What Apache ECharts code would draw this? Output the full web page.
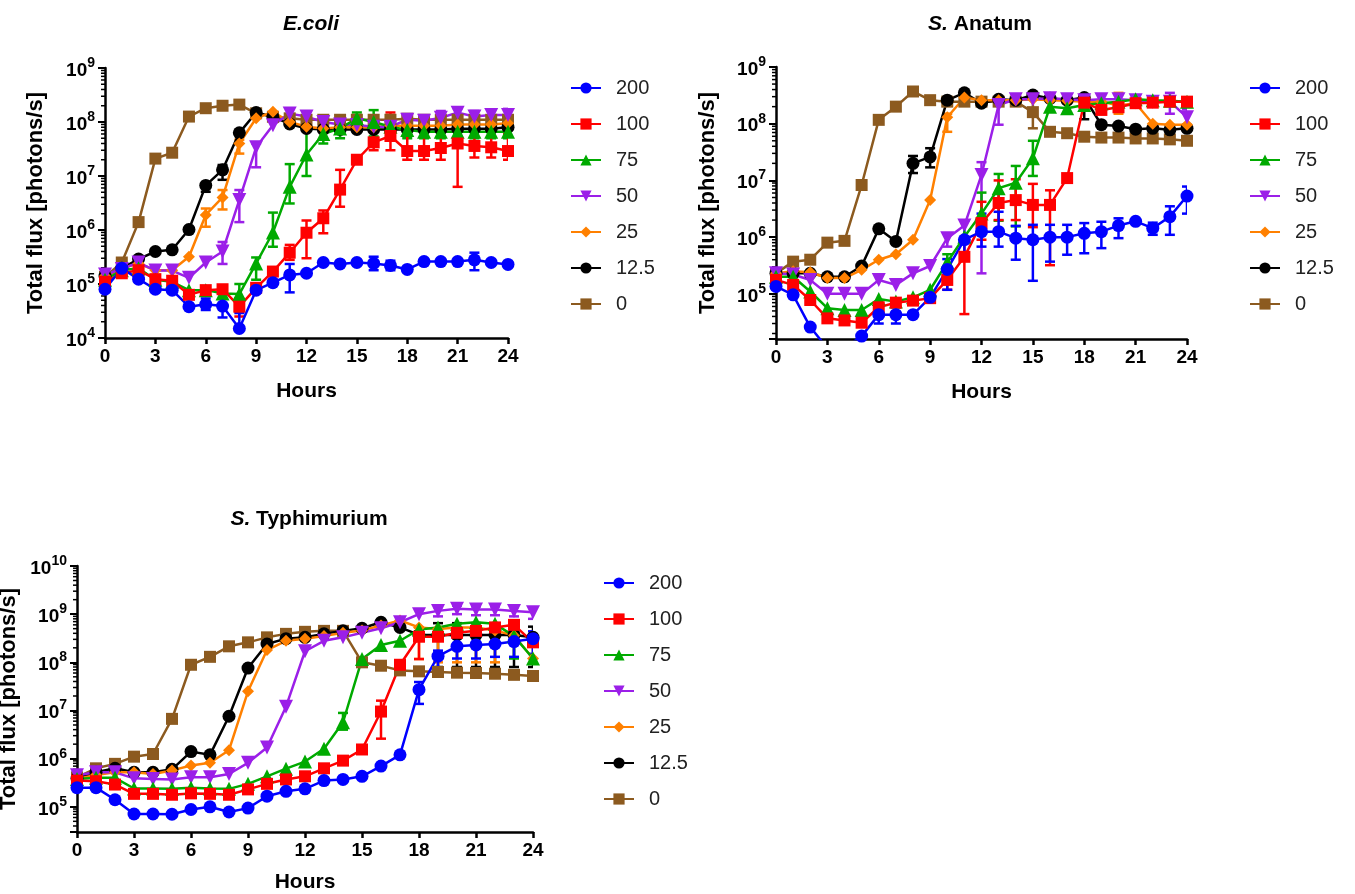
<!DOCTYPE html>
<html><head><meta charset="utf-8">
<script src="https://cdn.jsdelivr.net/npm/echarts@6/dist/echarts.min.js"></script>
<style>html,body{margin:0;padding:0;background:#fff}#c{width:1355px;height:894px}</style>
</head><body><div id="c"></div>
<script>
// ---------- data ----------
const hours = [0,1,2,3,4,5,6,7,8,9,10,11,12,13,14,15,16,17,18,19,20,21,22,23,24];
const names = ['200','100','75','50','25','12.5','0'];
const xTicks = [0,3,6,9,12,15,18,21,24];
const panelTitles = ['E.coli', '{i|S.} Anatum', '{i|S.} Typhimurium'];

// E.coli
const ecoli200 = [8e4,1.95e5,1.23e5,8e4,7.7e4,3.8e4,4.2e4,3.9e4,1.5e4,7.7e4,1.06e5,1.47e5,1.58e5,2.5e5,2.35e5,2.5e5,2.4e5,2.2e5,1.86e5,2.6e5,2.6e5,2.6e5,2.8e5,2.5e5,2.3e5];
const ecoli100 = [1.1e5,1.58e5,1.8e5,1.23e5,1.15e5,6.3e4,7.7e4,8e4,3.8e4,8.5e4,1.7e5,3.8e5,8.9e5,1.65e6,5.6e6,2.0e7,4.2e7,5.5e7,2.9e7,2.9e7,3.3e7,4e7,3.6e7,3.4e7,2.9e7];
const ecoli75  = [1.2e5,1.8e5,1.95e5,1.2e5,1.1e5,7.7e4,7.7e4,6.7e4,6.5e4,2.4e5,9e5,6.3e6,2.5e7,6e7,7.6e7,1.17e8,1e8,8.2e7,7.1e7,6.6e7,6.6e7,6.6e7,6.6e7,6.6e7,6.6e7];
const ecoli50  = [1.5e5,1.9e5,2.5e5,1.77e5,1.77e5,1.3e5,2.5e5,4e5,3.6e6,3.4e7,8.7e7,1.43e8,1.26e8,1e8,9e7,8.8e7,8.2e7,8.2e7,1.1e8,1.05e8,1.2e8,1.49e8,1.26e8,1.35e8,1.35e8];
const ecoli25  = [1.4e5,1.95e5,2.4e5,1.8e5,1.8e5,3.2e5,1.9e6,4e6,4e7,1.17e8,1.55e8,1e8,8.2e7,7.6e7,8e7,8e7,8e7,8.5e7,8.5e7,8.5e7,8.5e7,9e7,9e7,9e7,9.5e7];
const ecoli12  = [1.4e5,1.95e5,2.9e5,4e5,4.3e5,1.02e6,6.7e6,1.3e7,6.3e7,1.5e8,1.25e8,9.2e7,7.6e7,7.3e7,7.3e7,7.3e7,7.3e7,7.3e7,7.3e7,7.3e7,7.3e7,7.5e7,7.5e7,7.5e7,8e7];
const ecoli0   = [1.35e5,2.5e5,1.4e6,2.1e7,2.7e7,1.26e8,1.8e8,2e8,2.1e8,1.45e8,1.25e8,1.17e8,1.1e8,1.1e8,1.1e8,1.1e8,1.1e8,1.1e8,1.15e8,1.1e8,1.1e8,1.1e8,1.1e8,1.1e8,1.1e8];
// error bars [hour, low, high]
const ecoliErr200 = [[6,3.3e4,5.4e4],[7,2.4e4,6.7e4],[8,1.5e4,2.9e4],[11,7e4,2.35e5],[16,1.8e5,3.2e5],[17,1.8e5,2.7e5],[22,1.8e5,3.8e5]];
const ecoliErr100 = [[8,2.5e4,5.4e4],[11,2.8e5,5.3e5],[12,3e5,1.5e6],[13,8.7e5,2.3e6],[14,2.7e6,1.3e7],[16,3e7,6.6e7],[17,3e7,1.5e8],[18,2e7,7e7],[19,2e7,7e7],[20,2e7,7.6e7],[21,6.3e6,7.6e7],[22,2.2e7,7.6e7],[23,2.2e7,7.6e7],[24,2e7,6e7]];
const ecoliErr75  = [[8,4.5e4,1e5],[9,1.2e5,3.1e5],[10,4.9e5,2.1e6],[11,3.1e6,1.66e7],[12,1e7,6.9e7],[13,4e7,1.2e8],[14,5e7,1.2e8],[15,8e7,1.5e8],[16,5.4e7,1.66e8],[17,5e7,1.3e8],[18,5e7,1e8],[19,5e7,9e7],[20,5e7,9e7],[21,5e7,9e7],[22,5e7,9e7],[23,5e7,9e7],[24,5e7,9e7]];
const ecoliErr50  = [[7,2.35e5,6e5],[8,1.4e6,5.5e6],[9,1.45e7,4e7],[20,8e7,1.6e8],[21,1.1e8,1.8e8],[22,9e7,1.6e8],[23,9e7,1.7e8],[24,9e7,1.75e8]];
const ecoliErr25  = [[6,1.15e6,2.5e6],[7,2.4e6,5.5e6],[8,2.6e7,4.7e7]];
const ecoliErr12  = [[6,5.1e6,7.2e6],[7,8.5e6,1.6e7]];
const ecoliErr0   = [];

// S. Anatum
const anatum200 = [1.35e5,9.6e4,2.6e4,1.1e4,1.1e4,1.8e4,4.3e4,4.3e4,4.3e4,8.7e4,2.7e5,9e5,1.25e6,1.25e6,9.6e5,9e5,1e6,1e6,1.17e6,1.25e6,1.6e6,1.9e6,1.44e6,2.3e6,5.3e6];
const anatum100 = [1.76e5,1.44e5,7.8e4,3.7e4,3.4e4,3.1e4,5.8e4,7e4,7.6e4,8.4e4,1.76e5,4.5e5,1.77e6,4e6,4.5e6,3.7e6,3.7e6,1.1e7,2.35e8,1.75e8,1.95e8,2.3e8,2.35e8,2.45e8,2.45e8];
const anatum75  = [2e5,2e5,1.1e5,5.6e4,5.2e4,5.2e4,8.1e4,7.3e4,8.7e4,1.18e5,3.6e5,1.02e6,2.6e6,7.3e6,9.1e6,2.45e7,2e8,1.87e8,2.14e8,2.3e8,2.45e8,2.7e8,2.6e8,2.55e8,2.45e8];
const anatum50  = [2.3e5,2.2e5,1.76e5,1e5,1e5,1e5,1.76e5,1.44e5,2.3e5,3.1e5,9.6e5,1.6e6,1.25e7,2.14e8,2.7e8,2.7e8,2.8e8,2.7e8,2.6e8,2.7e8,2.7e8,2.6e8,2.45e8,2.45e8,1.3e8];
const anatum25  = [2.3e5,2.5e5,2.4e5,1.9e5,1.9e5,2.65e5,4e5,5e5,9e5,4.5e6,1.3e8,2.9e8,2.6e8,2.6e8,2.6e8,2.7e8,2.6e8,2.55e8,2.45e8,2.45e8,2.1e8,2.3e8,1e8,9.6e7,9.6e7];
const anatum12  = [2.3e5,2.3e5,2.3e5,2e5,2e5,3.1e5,1.4e6,8.4e5,2e7,2.6e7,2.6e8,3.5e8,2.3e8,2.7e8,2.6e8,3.2e8,2.8e8,2.6e8,2.9e8,9.6e7,9.1e7,8e7,8.3e7,7.8e7,8.3e7];
const anatum0   = [2.3e5,3.7e5,4e5,8e5,8.6e5,8.3e6,1.17e8,2e8,3.7e8,2.6e8,2.45e8,2.45e8,2.45e8,2.45e8,2.45e8,1.6e8,7.2e7,6.8e7,5.9e7,5.7e7,5.7e7,5.5e7,5.5e7,5.3e7,5e7];
const anatumErr200 = [[6,3e4,5.8e4],[7,3e4,5.8e4],[10,1.18e5,4.1e5],[11,4e5,1.95e6],[12,6.8e5,2.6e6],[13,6.8e5,2.8e6],[14,4e5,1.58e6],[15,1.7e5,1.65e6],[16,3.7e5,1.65e6],[17,4.9e5,1.65e6],[18,5.2e5,1.77e6],[19,6.4e5,1.87e6],[20,9.6e5,2.15e6],[22,1.1e6,1.8e6],[23,1.1e6,3.5e6],[24,2.6e6,7.8e6]];
const anatumErr100 = [[10,1.18e5,2.65e5],[11,4.4e4,8.3e5],[12,9e5,4.2e6],[13,2e6,1e7],[14,2e6,1.05e7],[15,1.5e6,8.7e6],[16,3.2e5,6.7e6]];
const anatumErr75  = [[10,2e5,5e5],[12,1.17e6,6.1e6],[13,1.95e6,1.3e7],[14,1.55e6,1.8e7],[15,1.2e7,5e7]];
const anatumErr50  = [[10,6.8e5,1.17e6],[12,2.3e5,2.1e7],[13,9.6e7,2.8e8],[23,1.5e8,3.5e8],[24,8e7,1.8e8]];
const anatumErr25  = [[10,7.2e7,1.5e8],[20,1.5e8,3.5e8]];
const anatumErr12  = [[8,1.35e7,2.7e7],[9,1.7e7,3.7e7],[18,1.2e8,3e8]];
const anatumErr0   = [[15,8.3e7,3e8]];

// S. Typhimurium
const typhi200 = [2.5e5,2.5e5,1.4e5,7.1e4,7.1e4,7e4,8.8e4,1e5,7.8e4,9.4e4,1.66e5,2.1e5,2.36e5,3.5e5,3.7e5,4.3e5,7e5,1.2e6,2.7e7,1.34e8,2.15e8,2.3e8,2.4e8,2.7e8,3.1e8];
const typhi100 = [3.5e5,3.4e5,2.9e5,1.86e5,1.86e5,1.78e5,1.9e5,1.86e5,1.78e5,2.3e5,3e5,3.7e5,4.3e5,6.3e5,9.1e5,1.55e6,9.5e6,8.9e7,3.4e8,3.4e8,4.1e8,4.5e8,5.3e8,6e8,2.6e8];
const typhi75  = [3.8e5,4e5,4e5,2.4e5,2.4e5,2.36e5,2.5e5,2.4e5,2.36e5,3e5,4.3e5,6.2e5,8.7e5,1.6e6,5.7e6,1.17e8,2.3e8,2.8e8,4.8e8,5.3e8,6.3e8,6.8e8,6.3e8,3.5e8,1.2e8];
const typhi50  = [4.5e5,5.2e5,5.2e5,3.9e5,3.8e5,3.7e5,4.1e5,4.1e5,4.8e5,8.2e5,1.7e6,1.2e7,1.7e8,2.8e8,3.3e8,4.1e8,5.1e8,6.8e8,1e9,1.17e9,1.3e9,1.25e9,1.25e9,1.17e9,1.1e9];
const typhi25  = [3.8e5,4.6e5,5.2e5,5.2e5,4.8e5,5.7e5,7.2e5,8.2e5,1.5e6,2.5e7,1.8e8,2.8e8,3.1e8,3.5e8,4.1e8,4.6e8,5.8e8,7.4e8,5.3e8,4.9e8,5.3e8,5.3e8,4.6e8,3.6e8,1.2e8];
const typhi12  = [3.9e5,5.2e5,6.3e5,5.2e5,5.2e5,6e5,1.4e6,1.2e6,7.6e6,7.6e7,2.4e8,3.1e8,3.3e8,3.9e8,4.5e8,5.1e8,6.8e8,5.3e8,3.7e8,3.7e8,3.7e8,3.7e8,3.7e8,3.7e8,3.3e8];
const typhi0   = [4.1e5,6.3e5,7.8e5,1.1e6,1.25e6,6.7e6,8.9e7,1.3e8,2.15e8,2.6e8,3.3e8,3.9e8,4.3e8,4.5e8,4.5e8,1e8,8.5e7,6.8e7,6.5e7,6.3e7,6.1e7,6e7,5.8e7,5.5e7,5.2e7];
const typhiErr200 = [[18,1.37e7,3.9e7],[19,7.9e7,1.75e8],[20,1.2e8,3.2e8],[21,1.2e8,3.6e8],[22,1.3e8,4e8],[23,1.3e8,4e8],[24,1.5e8,4.4e8]];
const typhiErr100 = [[16,2.6e6,1.6e7],[18,1.17e8,4e8]];
const typhiErr75  = [[14,4e6,8.9e6],[23,1.2e8,4e8]];
const typhiErr50  = [[19,9e8,1.4e9],[20,1e9,1.5e9],[21,9.5e8,1.45e9],[22,9.5e8,1.45e9],[23,9e8,1.4e9],[24,8e8,1.35e9]];
const typhiErr25  = [[18,1.17e8,5.3e8],[19,1e8,4.9e8],[20,1e8,5.3e8],[21,1e8,5.3e8],[22,1e8,4.6e8]];
const typhiErr12  = [[19,8e7,6.5e8],[20,8e7,6.5e8],[21,8e7,6.5e8],[22,8e7,6.5e8],[23,8e7,6.5e8],[24,8e7,5.5e8]];
const typhiErr0   = [];

// y-axis ranges
const yMin = [1e4, 1.6e4, 3e4];
const yMax = [1e9, 1e9, 1e10];

// ---------- style ----------
const FONT = '"Liberation Sans", Arial, Helvetica, sans-serif';
const colors = ['#0000FF','#FF0000','#00AA00','#9B1FE8','#FF8000','#000000','#8C5A1F'];
const symbols = ['circle','rect','triangle','triangle','diamond','circle','rect'];
const symbolSizes = [13,12,14,14,12,13,12];
const symbolRotates = [0,0,0,180,0,0,0];

const panels = [
  {vals:[ecoli200,ecoli100,ecoli75,ecoli50,ecoli25,ecoli12,ecoli0], errs:[ecoliErr200,ecoliErr100,ecoliErr75,ecoliErr50,ecoliErr25,ecoliErr12,ecoliErr0],
   grid:{left:105, top:68, width:403, height:270}, legend:{left:565, top:72}, title:{left:306, top:9}, nameGap:58},
  {vals:[anatum200,anatum100,anatum75,anatum50,anatum25,anatum12,anatum0], errs:[anatumErr200,anatumErr100,anatumErr75,anatumErr50,anatumErr25,anatumErr12,anatumErr0],
   grid:{left:776, top:67, width:411, height:272}, legend:{left:1244, top:72}, title:{left:975, top:9}, nameGap:57},
  {vals:[typhi200,typhi100,typhi75,typhi50,typhi25,typhi12,typhi0], errs:[typhiErr200,typhiErr100,typhiErr75,typhiErr50,typhiErr25,typhiErr12,typhiErr0],
   grid:{left:77, top:566, width:456, height:266}, legend:{left:598, top:567}, title:{left:304, top:504}, nameGap:57}
];

function powLabel(v){
  const e = Math.log10(v), r = Math.round(e);
  if (Math.abs(e - r) > 1e-6) return '';
  return '{b|10}{s|' + r + '}';
}

const grids = [], xAxes = [], yAxes = [], series = [], legends = [], titles = [];
panels.forEach((P, p) => {
  grids.push(Object.assign({outerBoundsMode:'none', containLabel:false}, P.grid));
  xAxes.push({
    gridIndex:p, type:'value', min:0, max:24, interval:3,
    axisLine:{show:true, onZero:false, lineStyle:{color:'#000', width:2.5}},
    axisTick:{show:true, length:6, lineStyle:{color:'#000', width:2.5}},
    splitLine:{show:false},
    axisLabel:{fontSize:19, fontWeight:'bold', color:'#000', fontFamily:FONT, margin:9,
      formatter: v => xTicks.indexOf(v) >= 0 ? String(v) : ''},
    name:'Hours', nameLocation:'middle', nameGap: p === 2 ? 40 : 43,
    nameTextStyle:{fontSize:21, fontWeight:'bold', color:'#000', fontFamily:FONT}
  });
  yAxes.push({
    gridIndex:p, type:'log', logBase:10, min:yMin[p], max:yMax[p],
    axisLine:{show:true, onZero:false, lineStyle:{color:'#000', width:2.5}},
    axisTick:{show:true, length:7, lineStyle:{color:'#000', width:2}},
    splitLine:{show:false},
    axisLabel:{formatter: powLabel, margin:10, color:'#000',
      rich:{b:{fontSize:19, fontWeight:'bold', color:'#000', fontFamily:FONT, lineHeight:24, verticalAlign:'bottom'},
            s:{fontSize:14, fontWeight:'bold', color:'#000', fontFamily:FONT, lineHeight:14, verticalAlign:'top'}}},
    name:'Total flux [photons/s]', nameLocation:'middle', nameGap:P.nameGap, nameRotate:90,
    nameTextStyle:{fontSize:22, fontWeight:'bold', color:'#000', fontFamily:FONT}
  });
  // minor ticks (2..9 x 10^n) derived from the axis range
  const minor = [];
  for (let n = Math.floor(Math.log10(yMin[p])); n < Math.log10(yMax[p]); n++) {
    for (let k = 2; k <= 9; k++) { const v = k * Math.pow(10, n); if (v > yMin[p] && v < yMax[p]) minor.push([0, v]); }
  }
  series.push({
    type:'custom', name:'minor'+p, xAxisIndex:p, yAxisIndex:p, data:minor, clip:false, silent:true, animation:false,
    encode:{x:0, y:1},
    renderItem:(params, api) => {
      const pt = api.coord([api.value(0), api.value(1)]);
      return {type:'line', shape:{x1:pt[0]-4, y1:pt[1], x2:pt[0], y2:pt[1]}, style:{stroke:'#000', lineWidth:1.5}};
    }
  });
  for (let i = 6; i >= 0; i--) {
    const col = colors[i];
    if (P.errs[i].length) {
      series.push({
        type:'custom', name:names[i]+' err', xAxisIndex:p, yAxisIndex:p, data:P.errs[i], clip:true, silent:true, animation:false,
        encode:{x:0, y:[1,2]},
        renderItem:(params, api) => {
          const x = api.value(0);
          const lo = api.coord([x, api.value(1)]), hi = api.coord([x, api.value(2)]);
          const w = 5, st = {stroke:col, lineWidth:2.5};
          return {type:'group', children:[
            {type:'line', shape:{x1:lo[0], y1:lo[1], x2:hi[0], y2:hi[1]}, style:st},
            {type:'line', shape:{x1:hi[0]-w, y1:hi[1], x2:hi[0]+w, y2:hi[1]}, style:st},
            {type:'line', shape:{x1:lo[0]-w, y1:lo[1], x2:lo[0]+w, y2:lo[1]}, style:st}
          ]};
        }
      });
    }
    series.push({
      type:'line', name:names[i], xAxisIndex:p, yAxisIndex:p,
      data: hours.map((h, k) => [h, P.vals[i][k]]),
      symbol:symbols[i], symbolSize:symbolSizes[i], symbolRotate:symbolRotates[i], showSymbol:true,
      itemStyle:{color:col}, lineStyle:{color:col, width:2.5}, clip:true, animation:false, silent:true
    });
  }
  legends.push({
    data:names, orient:'vertical', left:P.legend.left, top:P.legend.top, selectedMode:false,
    itemWidth:30, itemHeight:14, itemGap:14,
    textStyle:{fontSize:20, fontFamily:FONT, color:'#222', lineHeight:22, padding:[0,0,0,10]}
  });
  titles.push({
    text: panelTitles[p], left:P.title.left, top:P.title.top, textAlign:'center',
    textStyle:{fontSize:21, fontWeight:'bold', fontStyle: p === 0 ? 'italic' : 'normal', color:'#000', fontFamily:FONT,
      rich:{i:{fontSize:21, fontWeight:'bold', fontStyle:'italic', color:'#000', fontFamily:FONT}}}
  });
});

const chart = echarts.init(document.getElementById('c'), null, {renderer:'canvas'});
chart.setOption({
  backgroundColor:'#fff', animation:false,
  title:titles, grid:grids, xAxis:xAxes, yAxis:yAxes, legend:legends, series:series
});
</script></body></html>
